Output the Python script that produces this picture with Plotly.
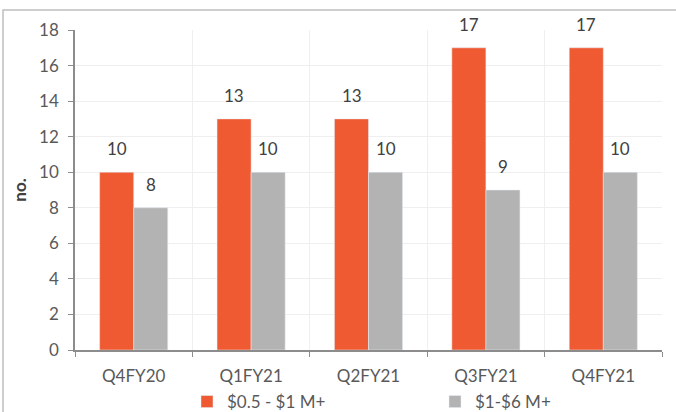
import plotly.graph_objects as go

categories = ["Q4FY20", "Q1FY21", "Q2FY21", "Q3FY21", "Q4FY21"]
series1_name = "$0.5 - $1 M+"
series1 = [10, 13, 13, 17, 17]
series2_name = "$1-$6 M+"
series2 = [8, 10, 10, 9, 10]
y_ticks = [0, 2, 4, 6, 8, 10, 12, 14, 16, 18]

FONT = "Lato, 'Open Sans', sans-serif"
ORANGE = "#EF5A32"
GRAY = "#B3B3B3"
LABEL = "#404040"
TICK = "#595959"

fig = go.Figure()
fig.add_trace(go.Bar(x=categories, y=series1, name=series1_name,
                     marker_color=ORANGE, legend="legend"))
fig.add_trace(go.Bar(x=categories, y=series2, name=series2_name,
                     marker_color=GRAY, legend="legend2"))

# data labels, offset above each bar (bars are ~34 px wide each)
for vals, dx in ((series1, -17), (series2, 17)):
    for c, v in zip(categories, vals):
        fig.add_annotation(x=c, y=v, xref="x", yref="y", text=str(v),
                           showarrow=False, xshift=dx, yshift=11,
                           yanchor="bottom",
                           font=dict(size=17, color=LABEL, family=FONT))

fig.update_layout(
    width=676, height=412,
    margin=dict(l=75, r=14, t=30, b=62, autoexpand=False),
    paper_bgcolor="white", plot_bgcolor="white",
    barmode="group", bargap=0.42, bargroupgap=0,
    font=dict(family=FONT, size=17, color=TICK),
    legend=dict(x=(187 - 75) / 587, y=(350 - 402) / 320,
                xanchor="left", yanchor="middle",
                font=dict(size=17, color=TICK), bgcolor="rgba(0,0,0,0)",
                itemwidth=30),
    legend2=dict(x=(435 - 75) / 587, y=(350 - 402) / 320,
                 xanchor="left", yanchor="middle",
                 font=dict(size=17, color=TICK), bgcolor="rgba(0,0,0,0)",
                 itemwidth=30),
    showlegend=True,
)
fig.update_xaxes(
    type="category", tickson="boundaries", showgrid=True, gridcolor="#EFEFEF",
    showline=True, linecolor="#8C8C8C", linewidth=1.5,
    ticks="outside", ticklen=5, tickcolor="#8C8C8C",
    tickfont=dict(size=17, color=TICK), ticklabelstandoff=10,
)
fig.update_yaxes(
    range=[0, 18], tickvals=y_ticks, showgrid=True, gridcolor="#EFEFEF",
    showline=True, linecolor="#8C8C8C", linewidth=1.5,
    ticks="outside", ticklen=5, tickcolor="#8C8C8C",
    tickfont=dict(size=17, color=TICK), zeroline=False, ticklabelstandoff=6,
    title=dict(text="<b>no.</b>", font=dict(size=17, color=LABEL), standoff=8),
)
# outer chart border
fig.add_shape(type="rect", xref="paper", yref="paper",
              x0=-72 / 587, x1=1 + 30 / 587, y0=-80 / 320, y1=1 + 20 / 320,
              line=dict(color="#BFBFBF", width=1.5), fillcolor="rgba(0,0,0,0)", layer="below")

fig.write_html("out.html")
